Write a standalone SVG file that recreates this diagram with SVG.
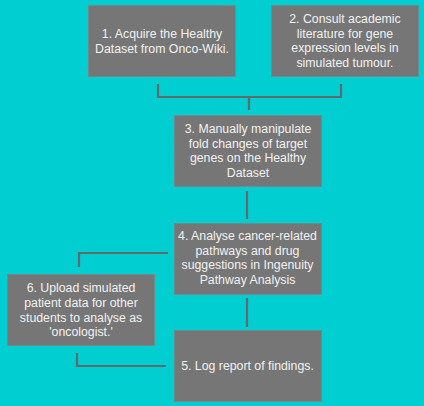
<svg xmlns="http://www.w3.org/2000/svg" width="424" height="406" viewBox="0 0 424 406">
<style>
.box{fill:#767676;stroke:#6f8a8c;stroke-width:1}
.t{font-family:"Liberation Sans",Arial,sans-serif;font-size:12.3px;fill:#f2f2f2;text-anchor:middle}
.c{fill:none;stroke:#5f6b6c;stroke-width:2.2}
</style>
<rect width="424" height="406" fill="#00CED1"/>
<g id="connectors">
<path class="c" d="M158 84 V97 H341 V84"/>
<path class="c" d="M249 97 V110"/>
<path class="c" d="M247 191 V219"/>
<path class="c" d="M168 253 H79 V267"/>
<path class="c" d="M247 298 V327"/>
<path class="c" d="M77 353 V366 H166"/>
</g>
<g id="node1">
<rect class="box" x="88.5" y="5.5" width="147" height="71"/>
<text class="t" x="162" y="38">1. Acquire the Healthy</text>
<text class="t" x="162" y="53">Dataset from Onco-Wiki.</text>
</g>
<g id="node2">
<rect class="box" x="271.5" y="5.5" width="147" height="71"/>
<text class="t" x="345" y="23">2. Consult academic</text>
<text class="t" x="345" y="38">literature for gene</text>
<text class="t" x="345" y="52">expression levels in</text>
<text class="t" x="345" y="67">simulated tumour.</text>
</g>
<g id="node3">
<rect class="box" x="174.5" y="115.5" width="147" height="71"/>
<text class="t" x="248" y="133">3. Manually manipulate</text>
<text class="t" x="248" y="148">fold changes of target</text>
<text class="t" x="248" y="162">genes on the Healthy</text>
<text class="t" x="248" y="177">Dataset</text>
</g>
<g id="node4">
<rect class="box" x="174.5" y="223.5" width="147" height="71"/>
<text class="t" x="247.5" y="240">4. Analyse cancer-related</text>
<text class="t" x="247.5" y="254.5">pathways and drug</text>
<text class="t" x="247.5" y="269">suggestions in Ingenuity</text>
<text class="t" x="247.5" y="284">Pathway Analysis</text>
</g>
<g id="node6">
<rect class="box" x="7.5" y="274.5" width="147" height="71"/>
<text class="t" x="81" y="292">6. Upload simulated</text>
<text class="t" x="81" y="307">patient data for other</text>
<text class="t" x="81" y="321.5">students to analyse as</text>
<text class="t" x="81" y="336">'oncologist.'</text>
</g>
<g id="node5">
<rect class="box" x="174.5" y="330.5" width="147" height="71"/>
<text class="t" x="247.5" y="370">5. Log report of findings.</text>
</g>
</svg>
